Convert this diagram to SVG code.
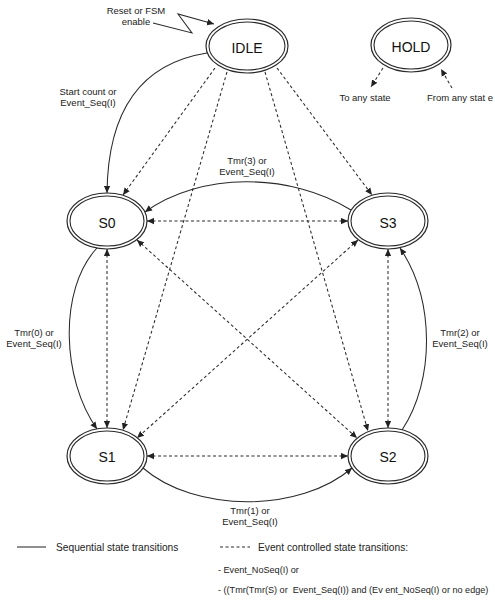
<svg xmlns="http://www.w3.org/2000/svg" width="495" height="603" viewBox="0 0 495 603">
<defs>
<marker id="ah" viewBox="0 0 10 10" refX="10" refY="5" markerWidth="7" markerHeight="7" markerUnits="userSpaceOnUse" orient="auto-start-reverse">
<path d="M0,0.5 L10,5 L0,9.5 Z" fill="#222"/>
</marker>
</defs>
<style>
.ring{fill:#fff;stroke:#2a2a2a;stroke-width:1.2}
.ring2{fill:none;stroke:#2a2a2a;stroke-width:1.1}
.nl{font-family:"Liberation Sans",Arial,sans-serif;font-size:14px;fill:#111;text-anchor:middle}
.lb{font-family:"Liberation Sans",Arial,sans-serif;font-size:9.5px;fill:#222;text-anchor:middle}
.lg{font-family:"Liberation Sans",Arial,sans-serif;font-size:10.2px;fill:#222}
.lg2{font-family:"Liberation Sans",Arial,sans-serif;font-size:9.1px;fill:#222}
.sol{fill:none;stroke:#2a2a2a;stroke-width:1.05}
.das{fill:none;stroke:#2a2a2a;stroke-width:1.05;stroke-dasharray:3 2.5}
</style>
<rect width="495" height="603" fill="#fff"/>
<g id="connectors">
<path class="sol" d="M207,53 C150,62 108,100 107,193" marker-end="url(#ah)"/>
<path class="sol" d="M351,210 C290,172 200,172 145,212" marker-end="url(#ah)"/>
<path class="sol" d="M97,248 C58,290 62,380 97,429" marker-end="url(#ah)"/>
<path class="sol" d="M143,468 C195,513 300,513 352,468" marker-end="url(#ah)"/>
<path class="sol" d="M402,430 C435,380 435,300 400,248" marker-end="url(#ah)"/>
<path class="sol" d="M153,23 L192,33 L178,14 L214,24" marker-end="url(#ah)"/>
<path class="das" d="M215,68 L123,195" marker-end="url(#ah)"/>
<path class="das" d="M227,72 L123,430" marker-end="url(#ah)"/>
<path class="das" d="M265,72 L368,431" marker-end="url(#ah)"/>
<path class="das" d="M277,68 L372,195" marker-end="url(#ah)"/>
<path class="das" d="M147,221 L348,221" marker-start="url(#ah)" marker-end="url(#ah)"/>
<path class="das" d="M107,249 L107,428" marker-start="url(#ah)" marker-end="url(#ah)"/>
<path class="das" d="M388,249 L388,428" marker-start="url(#ah)" marker-end="url(#ah)"/>
<path class="das" d="M147,456 L348,456" marker-start="url(#ah)" marker-end="url(#ah)"/>
<path class="das" d="M137,240 L357,438" marker-start="url(#ah)" marker-end="url(#ah)"/>
<path class="das" d="M358,240 L137,438" marker-start="url(#ah)" marker-end="url(#ah)"/>
<path class="das" d="M383,68 L371,87" marker-end="url(#ah)"/>
<path class="das" d="M452,88 L441,69" marker-end="url(#ah)"/>
</g>
<g id="labels">
<text class="lb" x="136" y="14">Reset or FSM</text>
<text class="lb" x="136" y="25">enable</text>
<text class="lb" x="88" y="95">Start count or</text>
<text class="lb" x="88" y="106">Event_Seq(I)</text>
<text class="lb" x="247" y="164">Tmr(3) or</text>
<text class="lb" x="247" y="175">Event_Seq(I)</text>
<text class="lb" x="34" y="336">Tmr(0) or</text>
<text class="lb" x="34" y="347">Event_Seq(I)</text>
<text class="lb" x="460" y="336">Tmr(2) or</text>
<text class="lb" x="460" y="347">Event_Seq(I)</text>
<text class="lb" x="250" y="514">Tmr(1) or</text>
<text class="lb" x="250" y="525">Event_Seq(I)</text>
<text class="lb" x="365" y="101">To any state</text>
<text class="lb" x="460" y="101">From any stat e</text>
</g>
<g id="IDLE">
<ellipse class="ring" cx="247" cy="46" rx="41" ry="27"/>
<ellipse class="ring2" cx="247" cy="46" rx="38" ry="24"/>
<text class="nl" x="247" y="53">IDLE</text>
</g>
<g id="HOLD">
<ellipse class="ring" cx="411" cy="45" rx="40" ry="27"/>
<ellipse class="ring2" cx="411" cy="45" rx="37" ry="24"/>
<text class="nl" x="411" y="52">HOLD</text>
</g>
<g id="S0">
<ellipse class="ring" cx="107" cy="221" rx="40" ry="28"/>
<ellipse class="ring2" cx="107" cy="221" rx="37" ry="25"/>
<text class="nl" x="107" y="228">S0</text>
</g>
<g id="S3">
<ellipse class="ring" cx="388" cy="221" rx="40" ry="28"/>
<ellipse class="ring2" cx="388" cy="221" rx="37" ry="25"/>
<text class="nl" x="388" y="228">S3</text>
</g>
<g id="S1">
<ellipse class="ring" cx="107" cy="456" rx="40" ry="28"/>
<ellipse class="ring2" cx="107" cy="456" rx="37" ry="25"/>
<text class="nl" x="107" y="462">S1</text>
</g>
<g id="S2">
<ellipse class="ring" cx="388" cy="456" rx="40" ry="28"/>
<ellipse class="ring2" cx="388" cy="456" rx="37" ry="25"/>
<text class="nl" x="388" y="462">S2</text>
</g>
<g id="legend">
<line class="sol" x1="17" y1="547" x2="46" y2="547"/>
<text class="lg" x="56" y="551">Sequential state transitions</text>
<line class="das" x1="220" y1="547" x2="250" y2="547"/>
<text class="lg" x="258" y="551">Event controlled state transitions:</text>
<text class="lg2" x="218" y="573">- Event_NoSeq(I) or</text>
<text class="lg2" x="218" y="593" xml:space="preserve">- ((Tmr(Tmr(S) or  Event_Seq(I)) and (Ev ent_NoSeq(I) or no edge)</text>
</g>
</svg>
